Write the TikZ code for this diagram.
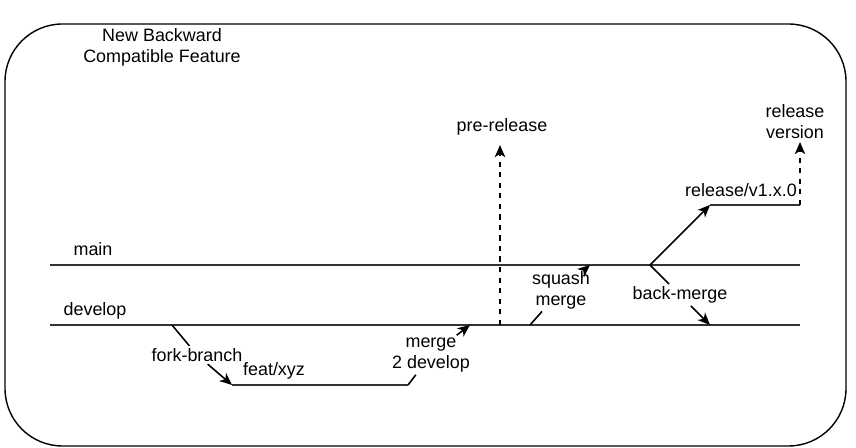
\documentclass[tikz,border=0pt]{standalone}
\usepackage{fontspec}
\setmainfont{Liberation Sans}
\usetikzlibrary{arrows.meta,positioning}

\begin{document}
\begin{tikzpicture}[
        x=0.02cm, y=-0.02cm,
        every node/.style={align=center, inner sep=1pt, font=\fontsize{10.2}{12}\selectfont},
        every path/.style={line width=0.9pt},
        branch/.style={line width=1.1pt, black!80},
        >={Stealth[length=7pt,width=6pt,inset=2pt]}
    ]
  \useasboundingbox (0,0) rectangle (856,448);

  % Frame
  \draw[line width=0.8pt, rounded corners=1.15cm] (5,24) rectangle (846,446);

  % Nodes
  \node (title) at (162,47) {New Backward\\Compatible Feature};
  \node (main) at (93,249) {main};
  \node (develop) at (95,311) {develop};
  \node (fork) at (197,355) {fork-branch};
  \node (feat) at (274,371) {feat/xyz};
  \node (merge) at (431,355) {merge\\2 develop};
  \node (prerel) at (502,127) {pre-release};
  \node (squash) at (561,290) {squash\\merge};
  \node (relbranch) at (741,190) {release/v1.x.0};
  \node (relver) at (795,122) {release\\version};
  \node (backmerge) at (680,295) {back-merge};

  % Coordinates
  \coordinate (m0) at (50,265);
  \coordinate (m1) at (800,265);
  \coordinate (d0) at (50,325);
  \coordinate (d1) at (800,325);
  \coordinate (forkout) at (172,325);
  \coordinate (featin) at (232,385);
  \coordinate (featout) at (408,385);
  \coordinate (mergein) at (470,325);
  \coordinate (preout) at (500,325);
  \coordinate (prein) at (500,145);
  \coordinate (squashout) at (530,325);
  \coordinate (squashin) at (590,265);
  \coordinate (relout) at (650,265);
  \coordinate (relin) at (710,205);
  \coordinate (relend) at (800,205);
  \coordinate (verin) at (800,142);
  \coordinate (backin) at (710,325);

  % Branches
  \draw[branch] (m0) -- (m1);
  \draw[branch] (d0) -- (d1);
  \draw[branch] (featin) -- (featout);
  \draw[branch] (relin) -- (relend);

  % Connectors
  \draw[->] (forkout) -- (fork) -- (featin);
  \draw[->] (featout) -- (merge) -- (mergein);
  \draw[->,dashed] (preout) -- (prein);
  \draw[->] (squashout) -- (squash) -- (squashin);
  \draw[->] (relout) -- (relin);
  \draw[->,dashed] (relend) -- (verin);
  \draw[->] (relout) -- (backmerge) -- (backin);
\end{tikzpicture}
\end{document}
